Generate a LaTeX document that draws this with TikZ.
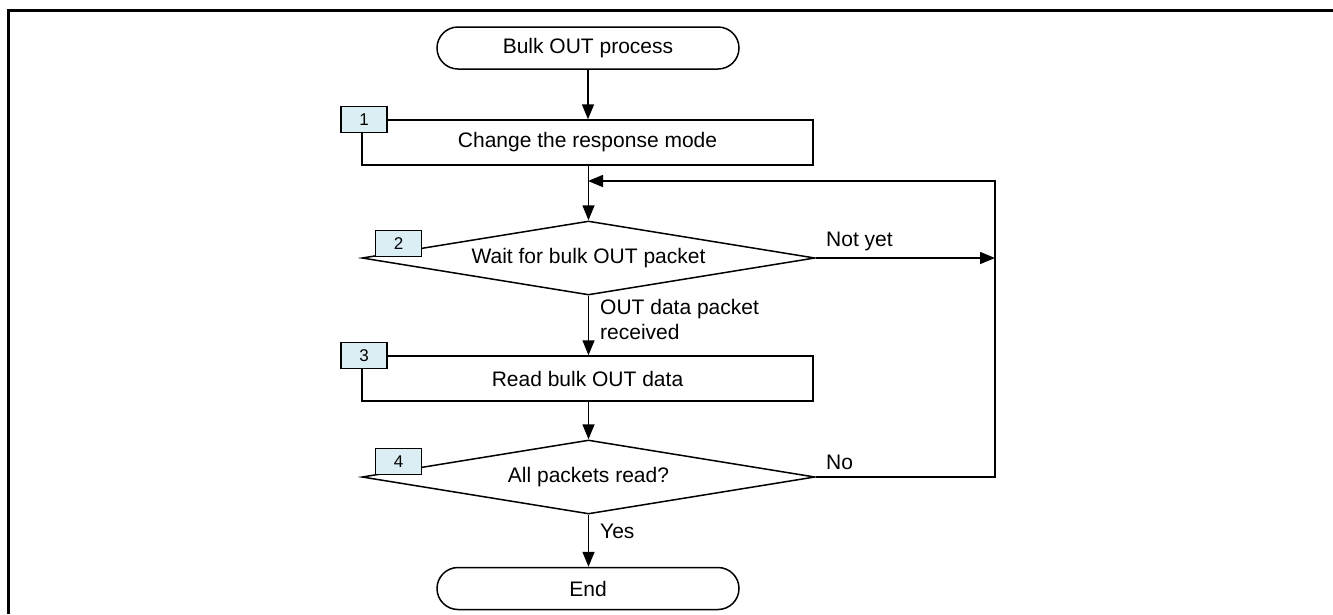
\documentclass[tikz,border=0pt]{standalone}
\usepackage{fontspec}
\setmainfont{Liberation Sans}
\usetikzlibrary{shapes.geometric,arrows.meta}
\definecolor{badgeblue}{RGB}{218,238,243}
\begin{document}
\begin{tikzpicture}[x=1pt,y=-1pt,
  every node/.style={font=\fontsize{21}{25}\selectfont},
  line/.style={line width=1.5pt},
  arr/.style={line width=1.5pt,-{Triangle[width=12pt,length=15pt]}},
  term/.style={draw,line width=1.5pt,rounded corners=21pt,minimum width=302pt,minimum height=42pt,inner sep=0pt},
  proc/.style={draw,line width=1.5pt,minimum width=451pt,minimum height=45pt,inner sep=0pt},
  dec/.style={draw,diamond,line width=1.5pt,aspect=6.1,minimum width=453pt,minimum height=74pt,inner sep=0pt},
  badge/.style={draw,fill=badgeblue,line width=1.2pt,minimum width=46pt,minimum height=26pt,inner sep=0pt,font=\fontsize{17}{19}\selectfont},
  lbl/.style={inner sep=0pt,align=left,font=\fontsize{21}{25}\selectfont}]
\useasboundingbox (0,0) rectangle (1333,614);
\fill[white] (0,0) rectangle (1333,614);
% frame
\draw[line width=3pt] (8,614) -- (8,10) -- (1333,10);

\node[term] (start) at (588,48) {Bulk OUT process};
\node[proc] (p1) at (587.5,142.5) {Change the response mode};
\node[dec] (d2) at (588.5,258) {\raisebox{-1pt}{Wait for bulk OUT packet}};
\node[proc] (p3) at (587.5,378.5) {Read bulk OUT data};
\node[dec] (d4) at (588.5,477) {\raisebox{-1pt}{All packets read?}};
\node[term] (end) at (588,588.5) {End};

\node[badge] (b1) at (364,119.5) {1};
\node[badge] (b2) at (398.5,243.5) {2};
\node[badge] (b3) at (364,355.5) {3};
\node[badge] (b4) at (398.5,461.5) {4};

\coordinate (r1) at (995,258);
\coordinate (r2) at (995,477);
\coordinate (r3) at (995,181);
\coordinate (j) at (588,181);

\draw[arr] (start.south) -- (start.south |- p1.north);
\draw[arr] (p1.south -| d2.north) -- (d2.north);
\draw[arr] (d2.south) -- (d2.south |- p3.north);
\draw[arr] (p3.south -| d4.north) -- (d4.north);
\draw[arr] (d4.south) -- (d4.south |- end.north);
\draw[arr] (d2.east) -- (r1);
\draw[arr] (d4.east) -- (r2) -- (r3) -- (j);

\node[lbl,anchor=south west] (ny) at (826,251) {Not yet};
\node[lbl,anchor=south west] (no) at (826,470) {No};
\node[lbl,anchor=north west] (odp) at (600,299) {OUT data packet\\received};
\node[lbl,anchor=west] (yes) at (600,531) {Yes};
\end{tikzpicture}
\end{document}
